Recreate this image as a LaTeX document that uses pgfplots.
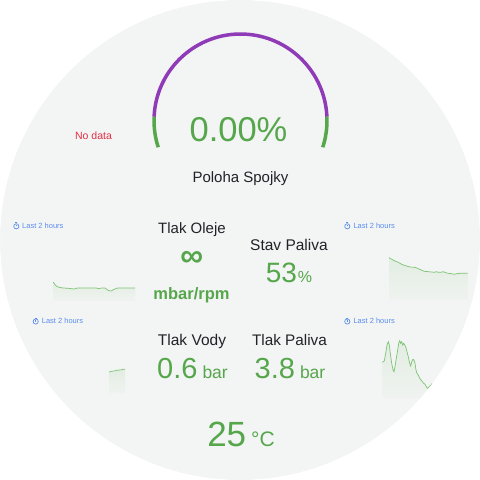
\documentclass[border=0pt]{standalone}
\usepackage{fontspec}
\setmainfont{Liberation Sans}
\usepackage{pgfplots}
\pgfplotsset{compat=1.18}

\definecolor{panel}{HTML}{F3F4F4}
\definecolor{valgreen}{HTML}{56A64B}
\definecolor{sparkline}{HTML}{7CC472}
\definecolor{gaugepurple}{HTML}{8F3BB8}
\definecolor{nodata}{HTML}{E02F44}
\definecolor{titletext}{HTML}{202428}
\definecolor{timeblue}{HTML}{5B8DEF}

\newcommand{\fs}[1]{\fontsize{#1}{#1}\selectfont}
% small clock glyph in front of the time-range label
\newcommand{\clockicon}[2]{%
  \draw[timeblue,line width=0.7pt] (axis cs:#1,#2) circle[radius=2.6pt];
  \draw[timeblue,line width=0.6pt] (axis cs:#1,#2) -- ++(0,1.6pt);
  \draw[timeblue,line width=0.6pt] (axis cs:#1-1,#2-3.6) -- (axis cs:#1+1,#2-3.6);
}

\begin{document}
\begin{tikzpicture}
\begin{axis}[
  width=480pt, height=480pt, scale only axis,
  xmin=0, xmax=480, ymin=0, ymax=480, y dir=reverse,
  hide axis, clip=false]

% round panel
\fill[panel] (axis cs:240,240) circle[radius=240pt];

% gauge: Poloha Spojky
\draw[gaugepurple,line width=3.5pt] (axis cs:240.5,120.5) ++(177.5:86.5pt) arc[start angle=177.5,end angle=2.5,radius=86.5pt];
\draw[valgreen,line width=3.5pt] (axis cs:240.5,120.5) ++(177.5:86.5pt) arc[start angle=177.5,end angle=198,radius=86.5pt];
\draw[valgreen,line width=3.5pt] (axis cs:240.5,120.5) ++(2.5:86.5pt) arc[start angle=2.5,end angle=-18,radius=86.5pt];
\node[anchor=base,inner sep=0,text=valgreen,font=\fs{34.5}] at (axis cs:238.5,141.7) {0.00\%};
\node[anchor=base,inner sep=0,text=titletext,font=\fs{15}] at (axis cs:240.5,182.7) {Poloha Spojky};
\node[anchor=base,inner sep=0,text=nodata,font=\fs{10.5}] at (axis cs:93.5,139.3) {No data};

% stat: Tlak Oleje
\node[anchor=base,inner sep=0,text=titletext,font=\fs{15}] at (axis cs:192,233.3) {Tlak Oleje};
\node[anchor=center,inner sep=0,text=valgreen,font=\bfseries\fs{32}] at (axis cs:191.7,258.5) {∞};
\node[anchor=base,inner sep=0,text=valgreen,font=\bfseries\fs{16.5}] at (axis cs:191.5,299.3) {mbar/rpm};

% stat: Stav Paliva
\node[anchor=base,inner sep=0,text=titletext,font=\fs{15.5}] at (axis cs:289,250) {Stav Paliva};
\node[anchor=base,inner sep=0,text=valgreen] at (axis cs:289,282.7) {\fs{28}53\kern1pt\fs{16}\%};

% stat: Tlak Vody
\node[anchor=base,inner sep=0,text=titletext,font=\fs{15.5}] at (axis cs:192,345.7) {Tlak Vody};
\node[anchor=base,inner sep=0,text=valgreen] at (axis cs:192.5,378.3) {\fs{29}0.6\kern5pt\fs{17.5}bar};

% stat: Tlak Paliva
\node[anchor=base,inner sep=0,text=titletext,font=\fs{15.3}] at (axis cs:289.5,345.7) {Tlak Paliva};
\node[anchor=base,inner sep=0,text=valgreen] at (axis cs:290,378.3) {\fs{29}3.8\kern5pt\fs{17.5}bar};

% stat: temperature
\node[anchor=base,inner sep=0,text=valgreen] at (axis cs:241,446.7) {\fs{35}25\kern5pt\fs{21}°C};

% time-range labels
\clockicon{16.3}{226.3}
\node[anchor=base west,inner sep=0,text=timeblue,font=\fs{7.5}] at (axis cs:22,228.7) {Last 2 hours};
\clockicon{347.3}{226.3}
\node[anchor=base west,inner sep=0,text=timeblue,font=\fs{7.5}] at (axis cs:353.3,228.7) {Last 2 hours};
\clockicon{35.7}{321.5}
\node[anchor=base west,inner sep=0,text=timeblue,font=\fs{7.5}] at (axis cs:41.7,323.7) {Last 2 hours};
\clockicon{347.3}{321.5}
\node[anchor=base west,inner sep=0,text=timeblue,font=\fs{7.5}] at (axis cs:353.3,323.7) {Last 2 hours};

% sparkline: Tlak Oleje
\addplot[draw=none,top color=sparkline!14!panel,bottom color=sparkline!3!panel] coordinates {
 (53.3,300.5) (53.3,282) (55,284.7) (56.7,286.3) (59,287.3) (63.3,288) (68.3,288.3) (71.7,288.7)
 (74.3,289) (75.7,288.3) (78.3,288) (85,288) (91.7,288) (96.7,288) (98.3,288.7) (100,288.3)
 (102.3,288) (105,288) (106.7,289.3) (108.3,290.3) (110,291) (111.7,290.7) (113.3,289.7)
 (115.7,288.7) (117.7,288) (121.7,288) (128.3,288) (135,288) (135,300.5)} -- cycle;
\addplot[sparkline,line width=0.7pt,mark=none] coordinates {
 (53.3,282) (55,284.7) (56.7,286.3) (59,287.3) (63.3,288) (68.3,288.3) (71.7,288.7)
 (74.3,289) (75.7,288.3) (78.3,288) (85,288) (91.7,288) (96.7,288) (98.3,288.7) (100,288.3)
 (102.3,288) (105,288) (106.7,289.3) (108.3,290.3) (110,291) (111.7,290.7) (113.3,289.7)
 (115.7,288.7) (117.7,288) (121.7,288) (128.3,288) (135,288)};

% sparkline: Stav Paliva
\addplot[draw=none,top color=sparkline!14!panel,bottom color=sparkline!3!panel] coordinates {
 (389,300) (389,257.7) (391.7,259.3) (395,261) (398.3,262.3) (401.7,264.3) (404.3,265.3)
 (406.7,266) (410,267) (415,267.3) (418.3,268.7) (421.7,270.3) (424.3,271.3) (428.3,271.7)
 (431.7,272) (434.3,272.3) (436,271.7) (438.3,272.3) (441,272.3) (443.3,271.7) (445.7,272.7)
 (448.3,273.3) (451.7,273.7) (454.3,274.3) (456.7,273.7) (460,273.3) (465,273.3) (467.7,273.3)
 (467.7,300)} -- cycle;
\addplot[sparkline,line width=0.7pt,mark=none] coordinates {
 (389,257.7) (391.7,259.3) (395,261) (398.3,262.3) (401.7,264.3) (404.3,265.3)
 (406.7,266) (410,267) (415,267.3) (418.3,268.7) (421.7,270.3) (424.3,271.3) (428.3,271.7)
 (431.7,272) (434.3,272.3) (436,271.7) (438.3,272.3) (441,272.3) (443.3,271.7) (445.7,272.7)
 (448.3,273.3) (451.7,273.7) (454.3,274.3) (456.7,273.7) (460,273.3) (465,273.3) (467.7,273.3)};

% sparkline: Tlak Vody
\addplot[draw=none,top color=sparkline!14!panel,bottom color=sparkline!3!panel] coordinates {
 (109,393) (109,372) (111.7,371.3) (114,371) (116.7,370.3) (119.3,370) (121.7,369.7)
 (123.3,369.3) (125,369.3) (125,393)} -- cycle;
\addplot[sparkline,line width=0.7pt,mark=none] coordinates {
 (109,372) (111.7,371.3) (114,371) (116.7,370.3) (119.3,370) (121.7,369.7) (123.3,369.3) (125,369.3)};

% sparkline: Tlak Paliva
\addplot[draw=none,top color=sparkline!14!panel,bottom color=sparkline!3!panel] coordinates {
 (382.3,398) (382.3,362.3) (383.3,361.7) (384.3,361) (385.7,353.3) (387,345) (388.3,341.7)
 (389.3,345) (390.3,353.3) (391.7,363.3) (393,370) (394,371.7) (395,366.7) (396.3,358.3)
 (397.7,350) (398.7,343.3) (399.7,340.7) (400.7,343.3) (401.7,341.7) (402.7,345) (403.7,343.3)
 (404.7,345) (405.7,346.7) (407,351.7) (408.3,356.7) (409.7,363.3) (410.7,366) (411.7,361.7)
 (413,359.3) (414,360) (415,363.3) (416,370) (417,373.3) (418.3,375) (419.7,378.3) (421,380)
 (422.3,381.7) (423.7,383.3) (425,384.3) (426.3,386.7) (427.3,388.3) (428.3,387.7) (429.7,386)
 (431,385) (432.3,383.3) (432.3,398)} -- cycle;
\addplot[sparkline,line width=0.7pt,mark=none] coordinates {
 (382.3,362.3) (383.3,361.7) (384.3,361) (385.7,353.3) (387,345) (388.3,341.7)
 (389.3,345) (390.3,353.3) (391.7,363.3) (393,370) (394,371.7) (395,366.7) (396.3,358.3)
 (397.7,350) (398.7,343.3) (399.7,340.7) (400.7,343.3) (401.7,341.7) (402.7,345) (403.7,343.3)
 (404.7,345) (405.7,346.7) (407,351.7) (408.3,356.7) (409.7,363.3) (410.7,366) (411.7,361.7)
 (413,359.3) (414,360) (415,363.3) (416,370) (417,373.3) (418.3,375) (419.7,378.3) (421,380)
 (422.3,381.7) (423.7,383.3) (425,384.3) (426.3,386.7) (427.3,388.3) (428.3,387.7) (429.7,386)
 (431,385) (432.3,383.3)};

% mask outside the round panel
\fill[white,even odd rule] (axis cs:0,0) rectangle (axis cs:480,480)
  (axis cs:240,240) circle[radius=240pt];
\end{axis}
\end{tikzpicture}
\end{document}
